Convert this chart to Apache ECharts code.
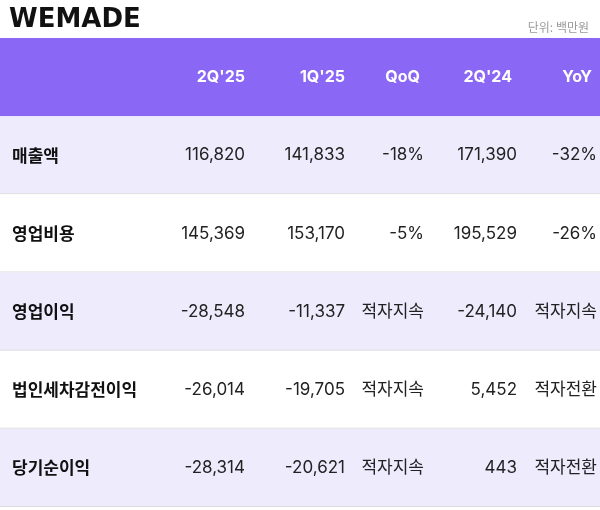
<!DOCTYPE html>
<html><head><meta charset="utf-8">
<script src="https://cdn.jsdelivr.net/npm/echarts@6/dist/echarts.min.js"></script>
<style>html,body{margin:0;padding:0;background:#fff}#c{width:600px;height:510px}</style>
</head><body><div id="c"></div>
<script>
const headers = ["2Q'25", "1Q'25", "QoQ", "2Q'24", "YoY"];
const rowLabels = ['매출액', '영업비용', '영업이익', '법인세차감전이익', '당기순이익'];
const q2_25 = ['116,820', '145,369', '-28,548', '-26,014', '-28,314'];
const q1_25 = ['141,833', '153,170', '-11,337', '-19,705', '-20,621'];
const qoq = ['-18%', '-5%', '적자지속', '적자지속', '적자지속'];
const q2_24 = ['171,390', '195,529', '-24,140', '5,452', '443'];
const yoy = ['-32%', '-26%', '적자지속', '적자전환', '적자전환'];

const colRight = [245, 345, 424, 517, 597];
const headRight = [245, 345, 420, 512, 592];
const FONT = 'Inter, "Noto Sans CJK KR", "Noto Sans", sans-serif';
const rowsAll = ['header'].concat(rowLabels);
const cols = [q2_25, q1_25, qoq, q2_24, yoy];

const chart = echarts.init(document.getElementById('c'));
chart.setOption({
  animation: false,
  title: [
    {text: 'WEMADE', left: 4, top: 2, textStyle: {fontFamily: '"DejaVu Sans", Arial', fontWeight: 'bold', fontSize: 26, color: '#111'}},
    {text: '단위: 백만원', right: 6, top: 16, textStyle: {fontFamily: '"Noto Sans CJK KR"', fontWeight: 'normal', fontSize: 12, color: '#999'}}
  ],
  grid: {left: 0, right: 0, top: 38, bottom: 3},
  xAxis: {type: 'value', min: 0, max: 600, show: false},
  yAxis: {type: 'category', data: rowsAll, inverse: true, show: false},
  series: [{
    type: 'custom',
    data: rowsAll.map((r, i) => [0, i]),
    renderItem: function (params, api) {
      const i = api.value(1);
      const c = api.coord([0, i]);
      const bandH = api.size([0, 1])[1];
      const y0 = c[1] - bandH / 2;
      const children = [];
      if (i === 0) {
        children.push({type: 'rect', shape: {x: 0, y: y0, width: 600, height: bandH}, style: {fill: '#8a68f5'}});
        headers.forEach((h, k) => children.push({type: 'text', style: {text: h, x: headRight[k], y: c[1], align: 'right', verticalAlign: 'middle', fill: '#fff', font: 'bold 16px ' + FONT}}));
      } else {
        const r = i - 1;
        children.push({type: 'rect', shape: {x: 0, y: y0, width: 600, height: bandH}, style: {fill: r % 2 === 0 ? '#eeebfd' : '#ffffff'}});
        children.push({type: 'rect', shape: {x: 0, y: y0 + bandH - 1, width: 600, height: 1}, style: {fill: '#dcdcdc'}});
        children.push({type: 'text', style: {text: rowLabels[r], x: 12, y: c[1], align: 'left', verticalAlign: 'middle', fill: '#111', font: 'bold 17px "Noto Sans CJK KR"'}});
        cols.forEach((col, k) => children.push({type: 'text', style: {text: col[r], x: colRight[k], y: c[1], align: 'right', verticalAlign: 'middle', fill: '#222', font: '17px ' + FONT}}));
      }
      return {type: 'group', children: children};
    }
  }]
});
</script></body></html>
